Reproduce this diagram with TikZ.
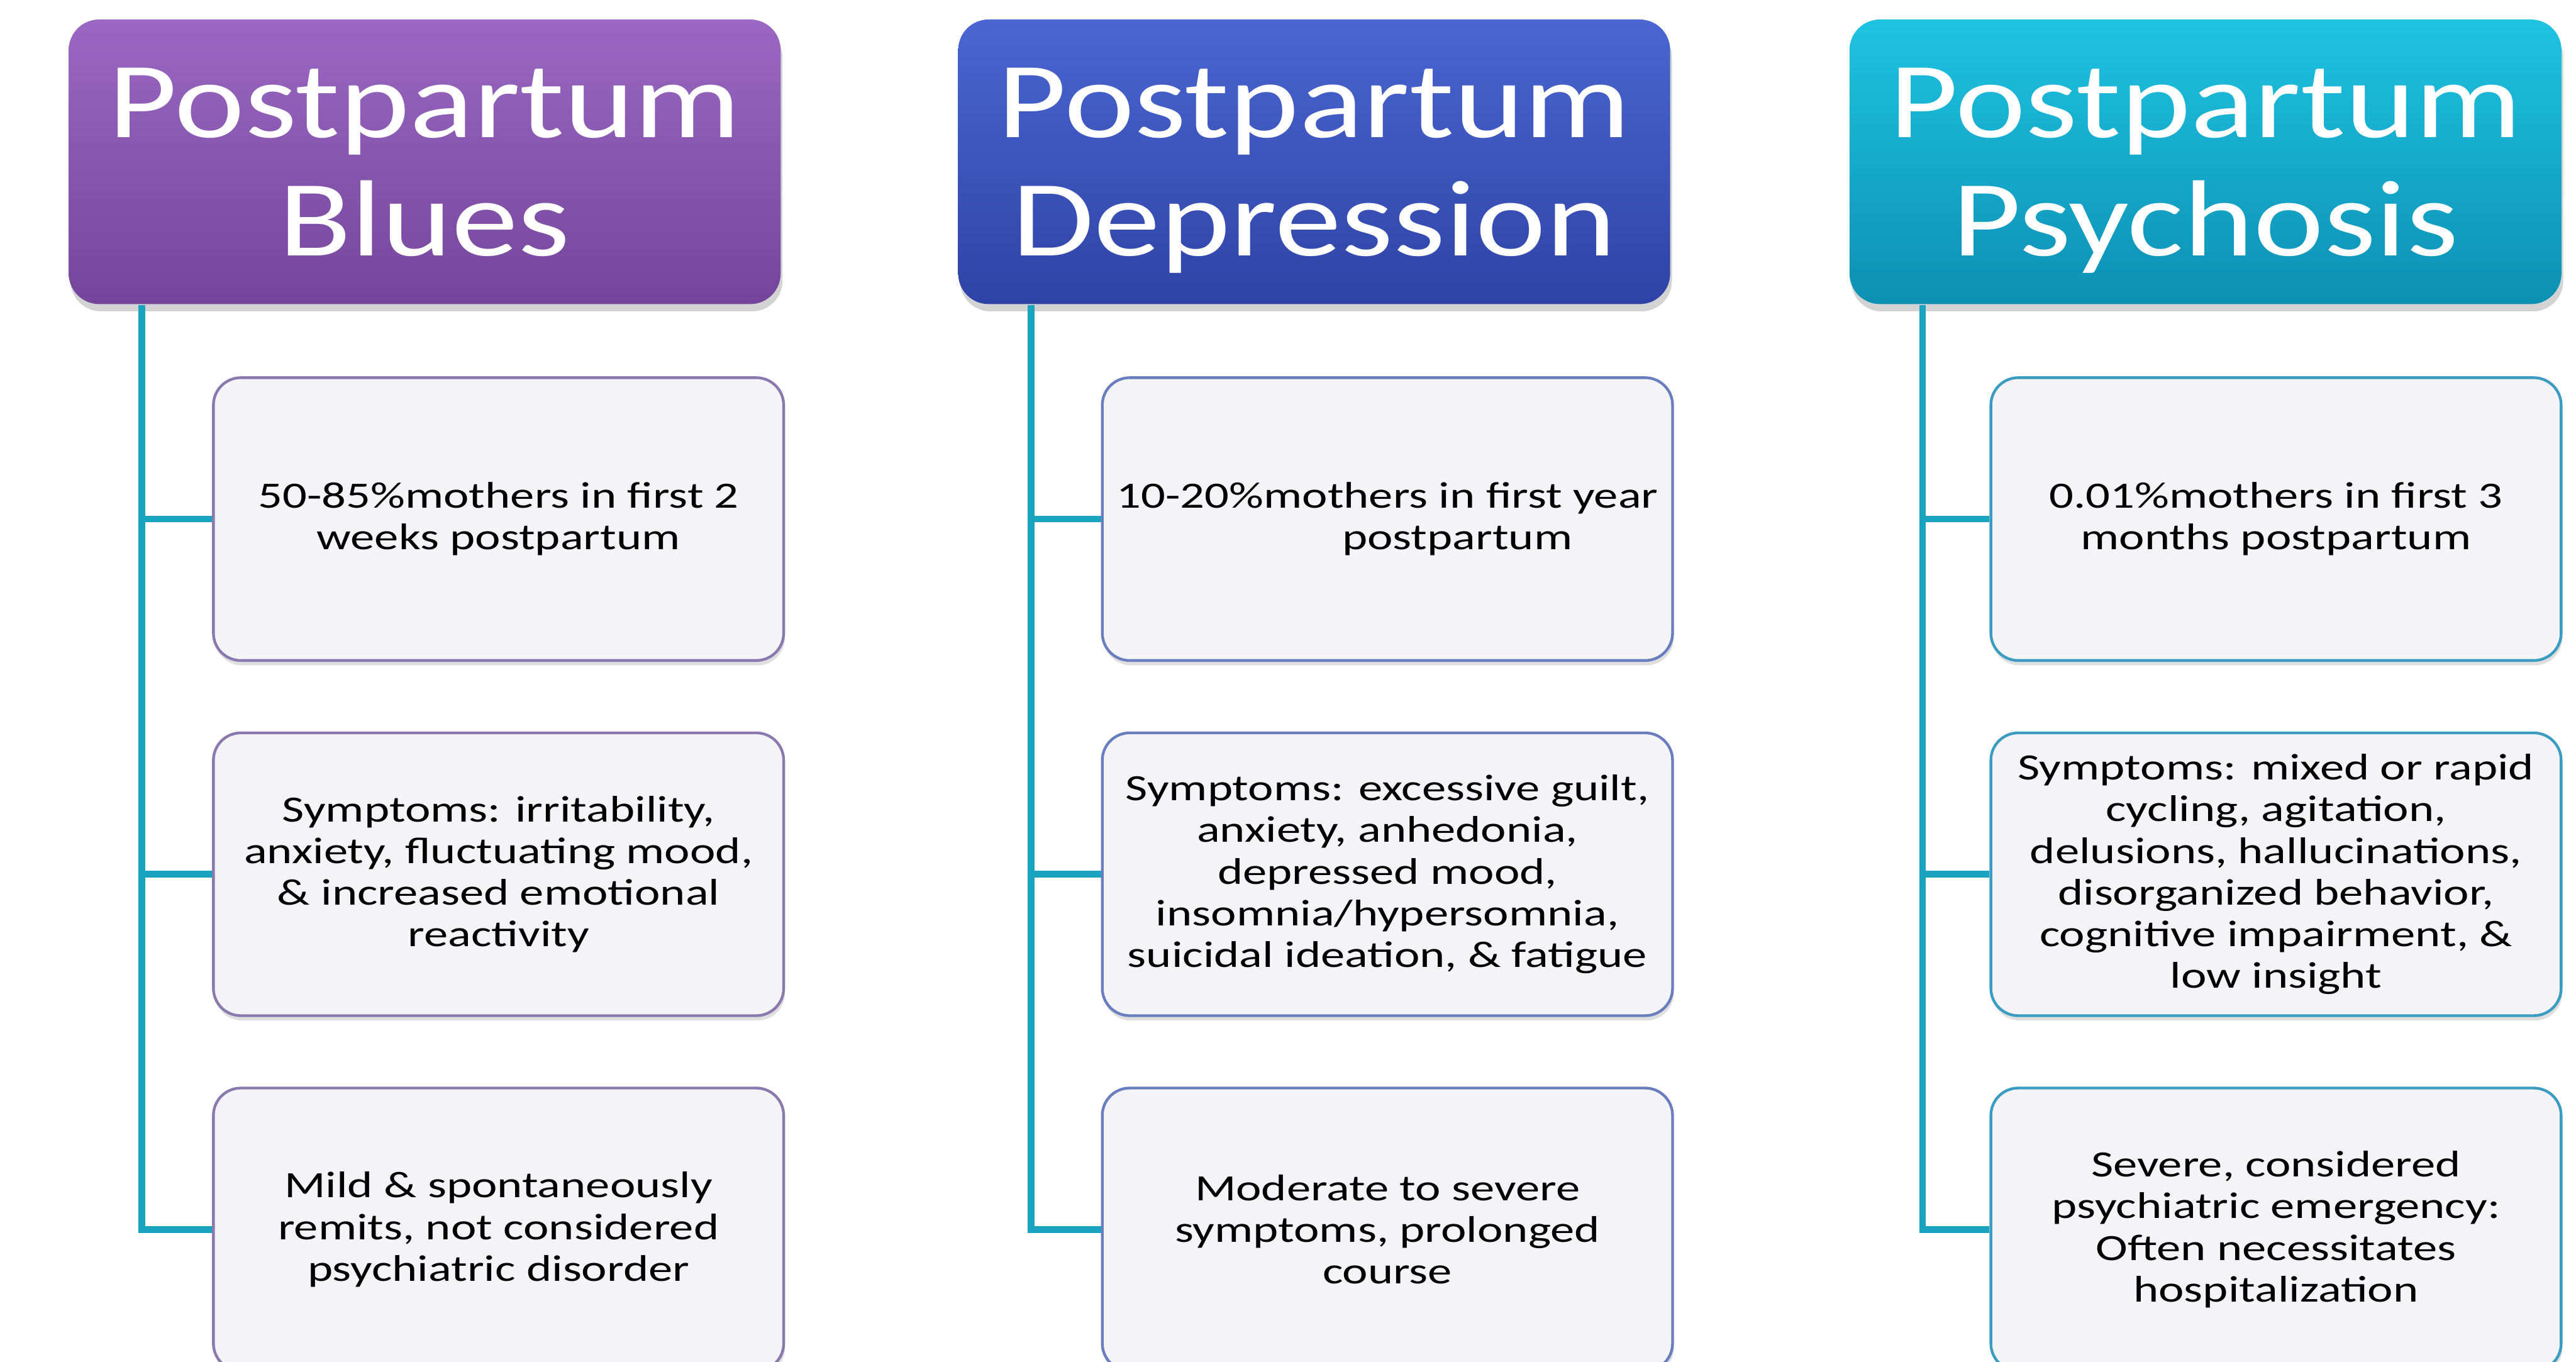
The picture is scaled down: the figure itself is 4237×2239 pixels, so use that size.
\documentclass[tikz,border=0pt]{standalone}
\usepackage{fontspec}
\setmainfont{Carlito}
\newfontfamily\hdrfont[FakeStretch=1.23]{Carlito}
\newfontfamily\bodyfont[FakeStretch=1.3]{Carlito}
\usetikzlibrary{shadows,calc}
\definecolor{purpTop}{HTML}{9A68C2}
\definecolor{purpBot}{HTML}{74469B}
\definecolor{bluTop}{HTML}{4A66D2}
\definecolor{bluBot}{HTML}{2F43A6}
\definecolor{tealTop}{HTML}{1FC3E2}
\definecolor{tealBot}{HTML}{0C90B4}
\definecolor{connC}{HTML}{18A4BE}
\definecolor{boxFill}{HTML}{F4F4F6}
\definecolor{bd1}{HTML}{8A78AE}
\definecolor{bd2}{HTML}{6A7EBF}
\definecolor{bd3}{HTML}{3A9CC0}
\begin{document}
\begin{tikzpicture}[x=0.1pt,y=-0.1pt,
  hdr/.style={rounded corners=5pt, minimum width=117.1pt, minimum height=46.8pt,
    text=white, inner sep=0pt, font=\hdrfont\fontsize{17.8}{19.4}\selectfont,
    text height=30.8pt, text depth=0pt,
    drop shadow={opacity=0.35, shadow xshift=0.3pt, shadow yshift=-1.2pt}},
  hdrA/.style={hdr, top color=purpTop, bottom color=purpBot},
  hdrB/.style={hdr, top color=bluTop, bottom color=bluBot},
  hdrC/.style={hdr, top color=tealTop, bottom color=tealBot},
  child/.style={rounded corners=4.5pt, minimum width=93.8pt, minimum height=46.5pt,
    fill=boxFill, line width=0.45pt, align=center, inner sep=0pt,
    font=\bodyfont\fontsize{6.1}{6.85}\selectfont,
    drop shadow={opacity=0.25, shadow xshift=0.2pt, shadow yshift=-0.8pt}},
  childA/.style={child, draw=bd1},
  childB/.style={child, draw=bd2},
  childC/.style={child, draw=bd3},
  conn/.style={draw=connC, line width=1.1pt}]
\useasboundingbox (0,0) rectangle (4237,2239);
\begin{scope}
\clip (0,0) rectangle (4237,2239);
% headers
\node[hdrA] (h1) at (698.5,266) {\parbox[b]{115pt}{\centering Postpartum\\Blues}};
\node[hdrB] (h2) at (2161.5,266) {\parbox[b]{115pt}{\centering Postpartum\\Depression}};
\node[hdrC] (h3) at (3627.5,266) {\parbox[b]{115pt}{\centering Postpartum\\Psychosis}};
% column 1
\node[childA] (c11) at (820,853.5) {50-85\%mothers in first 2\\weeks postpartum};
\node[childA] (c12) at (820,1437.5) {Symptoms: irritability,\\anxiety, fluctuating mood,\\\& increased emotional\\reactivity};
\node[childA] (c13) at (820,2021.5) {Mild \& spontaneously\\remits, not considered\\psychiatric disorder};
% column 2
\node[childB] (c21) at (2282,853.5) {10-20\%mothers in first year\\\hspace*{23pt}postpartum};
\node[childB] (c22) at (2282,1437.5) {Symptoms: excessive guilt,\\anxiety, anhedonia,\\depressed mood,\\insomnia/hypersomnia,\\suicidal ideation, \& fatigue};
\node[childB] (c23) at (2282,2021.5) {Moderate to severe\\symptoms, prolonged\\course};
% column 3
\node[childC] (c31) at (3743.5,853.5) {0.01\%mothers in first 3\\months postpartum};
\node[childC] (c32) at (3743.5,1437.5) {Symptoms: mixed or rapid\\cycling, agitation,\\delusions, hallucinations,\\disorganized behavior,\\cognitive impairment, \&\\low insight};
\node[childC] (c33) at (3743.5,2021.5) {Severe, considered\\psychiatric emergency:\\Often necessitates\\hospitalization};
% connectors
\foreach \h/\a/\b/\c in {h1/c11/c12/c13, h2/c21/c22/c23, h3/c31/c32/c33} {
  \coordinate (\h v) at ([xshift=12.2pt]\h.south west);
  \draw[conn] (\h v) |- (\c.west);
  \draw[conn] (\h v |- \a.west) -- (\a.west);
  \draw[conn] (\h v |- \b.west) -- (\b.west);
}
\end{scope}
\end{tikzpicture}
\end{document}
